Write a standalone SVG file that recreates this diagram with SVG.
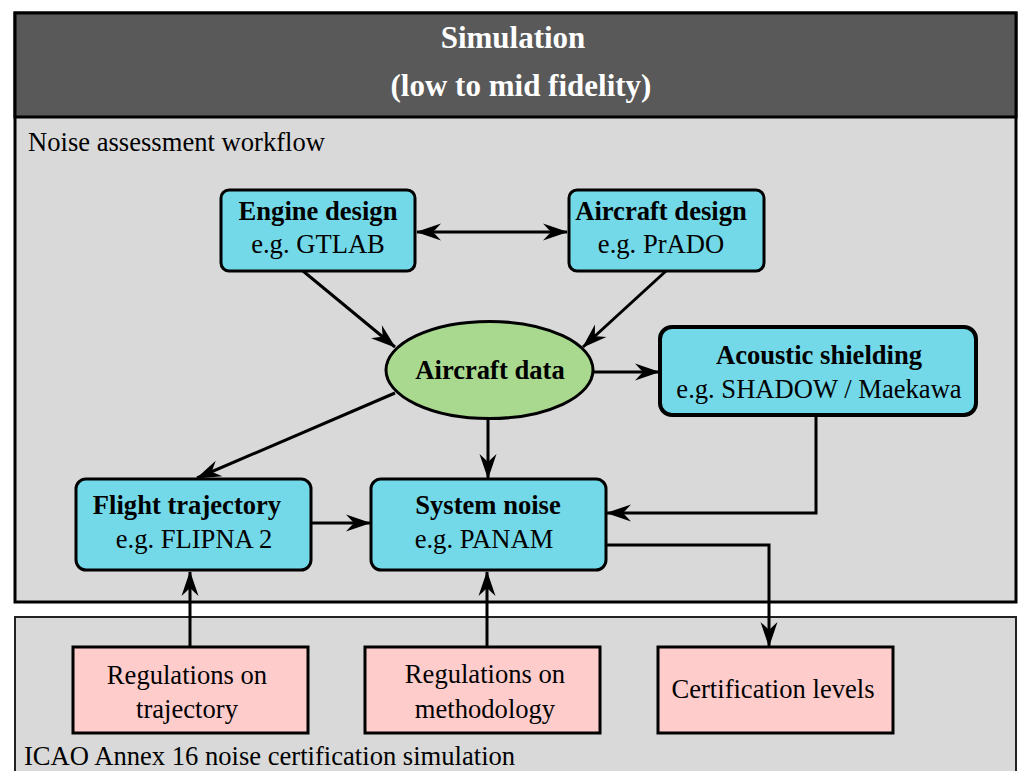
<svg xmlns="http://www.w3.org/2000/svg" width="1019" height="771" viewBox="0 0 1019 771">
<defs>
<style>
text{font-family:"Liberation Serif","Times New Roman",serif;font-size:26.6px;fill:#000;text-anchor:middle}
.b{font-weight:bold}
.l{text-anchor:start}
.title{font-weight:bold;fill:#fff;font-size:31px}
.cy{fill:#73D9E8;stroke:#000;stroke-width:3}
.pk{fill:#FFCCCC;stroke:#000;stroke-width:3}
.conn{fill:none;stroke:#000;stroke-width:3;marker-end:url(#ah)}
</style>
<marker id="ah" markerUnits="userSpaceOnUse" markerWidth="30" markerHeight="20" viewBox="-26 -10 30 20" refX="0" refY="0" orient="auto-start-reverse">
<path d="M1,0 L-24,-8.5 Q-19,-3 -16,0 Q-19,3 -24,8.5 Z" fill="#000"/>
</marker>
</defs>
<g id="frame-sim">
<rect x="15" y="13" width="1001" height="589" fill="#D9D9D9" stroke="#000" stroke-width="3"/>
<rect x="15" y="13" width="1001" height="104" fill="#595959" stroke="#000" stroke-width="3"/>
<text class="title" x="513" y="48">Simulation</text>
<text class="title" x="521" y="96">(low to mid fidelity)</text>
<text class="l" x="28" y="151">Noise assessment workflow</text>
</g>
<g id="frame-icao">
<rect x="15" y="617" width="1001" height="170" fill="#D9D9D9" stroke="#222" stroke-width="2"/>
<text class="l" x="24" y="765">ICAO Annex 16 noise certification simulation</text>
</g>
<g id="connectors">
<line class="conn" x1="417" y1="232" x2="567" y2="232" style="marker-start:url(#ah)"/>
<line class="conn" x1="303" y1="271" x2="395" y2="347"/>
<line class="conn" x1="666" y1="271" x2="583" y2="347"/>
<line class="conn" x1="593" y1="372" x2="659" y2="372"/>
<line class="conn" x1="395" y1="393" x2="197" y2="478"/>
<line class="conn" x1="488" y1="418" x2="488" y2="478"/>
<line class="conn" x1="312" y1="523" x2="370" y2="523"/>
<polyline class="conn" points="816,416 816,513 607,513"/>
<polyline class="conn" points="607,545 769,545 769,646"/>
<line class="conn" x1="190" y1="647" x2="190" y2="572"/>
<line class="conn" x1="487" y1="647" x2="487" y2="572"/>
</g>
<g id="engine-design">
<rect class="cy" x="221" y="190" width="194" height="81" rx="8"/>
<text class="b" x="318" y="220">Engine design</text>
<text x="318" y="253">e.g. GTLAB</text>
</g>
<g id="aircraft-design">
<rect class="cy" x="569" y="190" width="195" height="81" rx="8"/>
<text class="b" x="661" y="220">Aircraft design</text>
<text x="661" y="253">e.g. PrADO</text>
</g>
<g id="aircraft-data">
<ellipse cx="489.5" cy="370" rx="103.5" ry="48.5" fill="#A9D98F" stroke="#000" stroke-width="3"/>
<text class="b" x="490" y="379">Aircraft data</text>
</g>
<g id="acoustic-shielding">
<rect x="660" y="327" width="316" height="88" rx="12" fill="#73D9E8" stroke="#000" stroke-width="4"/>
<text class="b" x="819" y="364">Acoustic shielding</text>
<text x="819" y="398">e.g. SHADOW / Maekawa</text>
</g>
<g id="flight-trajectory">
<rect class="cy" x="76" y="479" width="235" height="91" rx="10"/>
<text class="b" x="187" y="514">Flight trajectory</text>
<text x="194" y="548">e.g. FLIPNA 2</text>
</g>
<g id="system-noise">
<rect class="cy" x="371" y="479" width="235" height="91" rx="10"/>
<text class="b" x="488" y="514">System noise</text>
<text x="484" y="548">e.g. PANAM</text>
</g>
<g id="reg-trajectory">
<rect class="pk" x="73" y="647" width="235" height="86"/>
<text x="187" y="684">Regulations on</text>
<text x="187" y="718">trajectory</text>
</g>
<g id="reg-methodology">
<rect class="pk" x="365" y="647" width="235" height="86"/>
<text x="485" y="683">Regulations on</text>
<text x="485" y="718">methodology</text>
</g>
<g id="certification-levels">
<rect class="pk" x="658" y="647" width="235" height="86"/>
<text x="773" y="698">Certification levels</text>
</g>
</svg>
